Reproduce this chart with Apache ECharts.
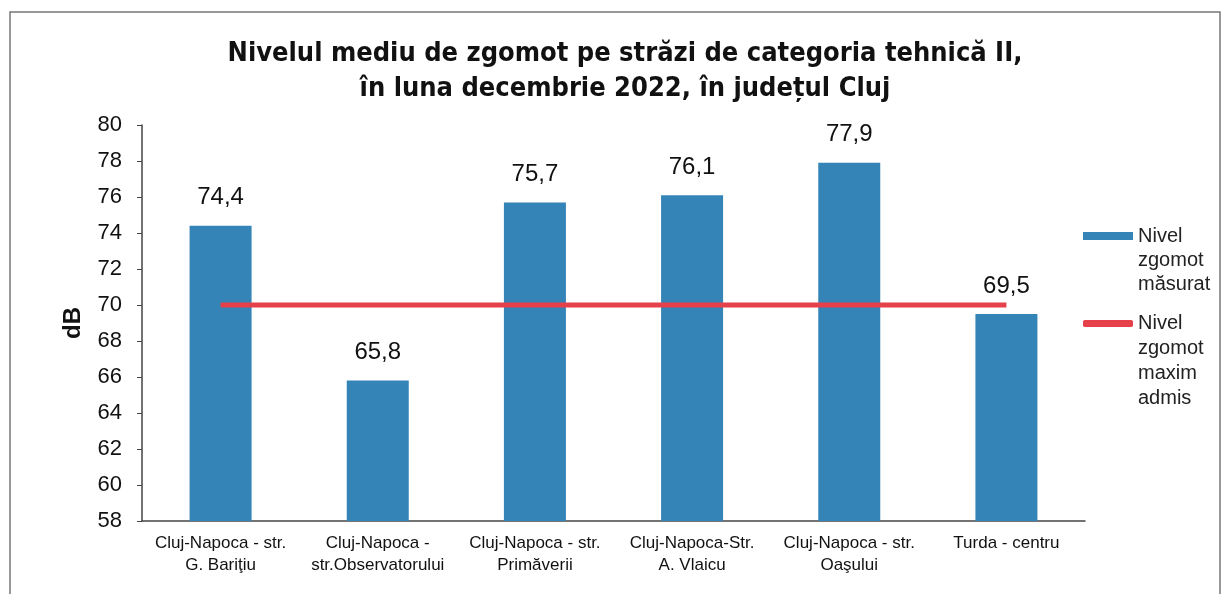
<!DOCTYPE html>
<html lang="ro">
<head>
<meta charset="UTF-8">
<title>zgomot_cluj</title>
<style>
  html, body { margin: 0; padding: 0; background: #fff; }
  #main { width: 1229px; height: 594px; }
</style>
</head>
<body>
<div id="main"></div>
<script src="https://cdn.jsdelivr.net/npm/echarts@6/dist/echarts.min.js"></script>
<script>
var categories = [
    'Cluj-Napoca - str.\nG. Bariţiu',
    'Cluj-Napoca -\nstr.Observatorului',
    'Cluj-Napoca - str.\nPrimăverii',
    'Cluj-Napoca-Str.\nA. Vlaicu',
    'Cluj-Napoca - str.\nOaşului',
    'Turda - centru'
]
var measured = [74.4, 65.8, 75.7, 76.1, 77.9, 69.5]
var maxAllowed = [70, 70, 70, 70, 70, 70]
var yTicks = { min: 58, max: 80, step: 2 }

var main = echarts.init(document.getElementById('main'))
var font = 'Liberation Sans, Arial, sans-serif'

// legend text is centred on the icon, so pad with blank lines on top
// to bring the first line level with the icon
function legendText(name) {
    var n = name.split('\n').length
    var pad = ''
    for (var i = 1; i < n; i++) pad += ' \n'
    return pad + name
}

var option = {
    backgroundColor: '#fff',
    animation: false,
    title: {
        text: 'Nivelul mediu de zgomot pe străzi de categoria tehnică II,\nîn luna decembrie 2022, în județul Cluj',
        left: 620,
        top: 31,
        textAlign: 'center',
        textStyle: {
            fontFamily: 'Liberation Sans Narrow, DejaVu Sans Condensed, sans-serif',
            fontWeight: 'bold',
            fontSize: 27,
            lineHeight: 35,
            color: '#111'
        }
    },
    graphic: [{
        type: 'rect',
        shape: { x: 10, y: 12, width: 1210, height: 600 },
        style: { fill: 'none', stroke: '#777', lineWidth: 1.5 },
        silent: true
    }],
    legend: [{
        data: [{ name: 'Nivel\nzgomot\nmăsurat', icon: 'rect' }],
        left: 1083,
        top: 176,
        padding: 0,
        itemWidth: 50,
        itemHeight: 8,
        itemGap: 0,
        formatter: legendText,
        textStyle: { fontFamily: font, fontSize: 20, lineHeight: 24, color: '#222' }
    }, {
        data: [{ name: 'Nivel\nzgomot\nmaxim\nadmis', icon: 'roundRect' }],
        left: 1083,
        top: 236,
        padding: 0,
        itemWidth: 50,
        itemHeight: 7,
        itemGap: 0,
        formatter: legendText,
        textStyle: { fontFamily: font, fontSize: 20, lineHeight: 25, color: '#222' }
    }],
    grid: { left: 142, right: 144, top: 125, bottom: 73 },
    xAxis: {
        type: 'category',
        data: categories,
        axisLine: { lineStyle: { color: '#444', width: 1.5 } },
        axisTick: { alignWithLabel: false, length: 6, lineStyle: { color: '#444' } },
        axisLabel: { fontFamily: font, fontSize: 17, lineHeight: 22, color: '#111', margin: 11, interval: 0 }
    },
    yAxis: {
        type: 'value',
        min: yTicks.min,
        max: yTicks.max,
        interval: yTicks.step,
        name: 'dB',
        nameLocation: 'middle',
        nameGap: 57,
        nameRotate: 90,
        nameTextStyle: { fontFamily: font, fontWeight: 'bold', fontSize: 24, color: '#111' },
        axisLine: { show: true, lineStyle: { color: '#444', width: 1.5 } },
        axisTick: { show: true, inside: false, length: 5, lineStyle: { color: '#444' } },
        splitLine: { show: false },
        axisLabel: { fontFamily: font, fontSize: 22, color: '#111', margin: 20 }
    },
    series: [{
        name: 'Nivel\nzgomot\nmăsurat',
        type: 'bar',
        data: measured,
        barWidth: 62,
        itemStyle: { color: '#3484b8' },
        label: {
            show: true,
            position: 'top',
            distance: 16,
            fontFamily: font,
            fontSize: 24,
            color: '#111',
            formatter: function (p) { return p.value.toFixed(1).replace('.', ',') }
        },
        z: 2
    }, {
        name: 'Nivel\nzgomot\nmaxim\nadmis',
        type: 'line',
        data: maxAllowed,
        symbol: 'none',
        lineStyle: { color: '#e6404a', width: 5 },
        itemStyle: { color: '#e6404a' },
        z: 3
    }]
}
main.setOption(option)
</script>
</body>
</html>
